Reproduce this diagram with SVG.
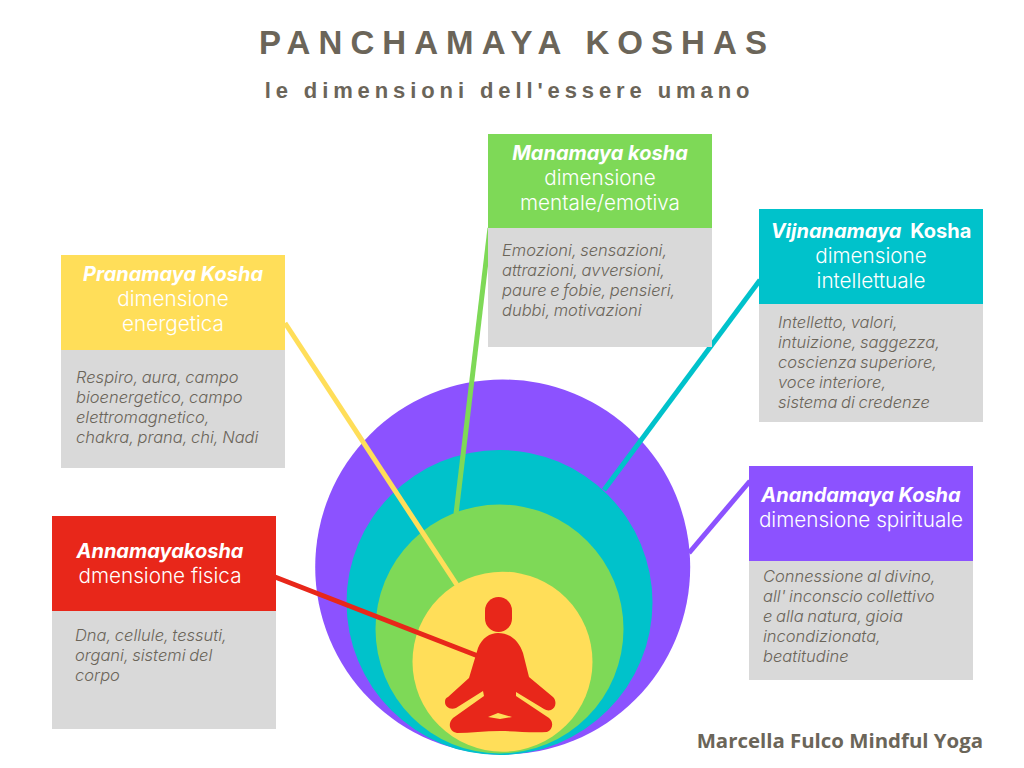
<svg xmlns="http://www.w3.org/2000/svg" width="1024" height="768" viewBox="0 0 1024 768">
<style>
text{font-family:"Inter","Roboto","Liberation Sans",sans-serif}
.t{fill:#6b6559;font-family:"Liberation Sans",sans-serif;font-weight:700;text-anchor:middle}
.h{fill:#fff;font-size:20.700px;font-weight:300;text-anchor:middle}
.n{font-size:20px;font-weight:700;font-style:italic}
.b{fill:#6b6559;font-size:16.500px;font-weight:300;font-style:italic;word-spacing:-1px}
.g{fill:#d9d9d9}
.c{fill:none;stroke-width:5}
</style>
<rect width="1024" height="768" fill="#fff"/>
<text class="t" x="517" y="54" font-size="33" letter-spacing="8.060">PANCHAMAYA KOSHAS</text>
<text class="t" x="509.500" y="98" font-size="22" letter-spacing="4.900">le dimensioni dell'essere umano</text>
<g id="circles">
<circle cx="502.700" cy="567" r="187.500" fill="#8c52ff"/>
<ellipse cx="499.500" cy="602.500" rx="153" ry="152.500" fill="#00c2cb"/>
<ellipse cx="499.500" cy="629" rx="124" ry="124.500" fill="#7ed957"/>
<circle cx="502.500" cy="661.700" r="90" fill="#ffde59"/>
</g>
<g id="connectors">
<path class="c" stroke="#8c52ff" d="M689 553L750 481"/>
<path class="c" stroke="#00c2cb" d="M604 490L760 280"/>
<path class="c" stroke="#7ed957" d="M456 514L490 228"/>
<path class="c" stroke="#ffde59" d="M457 585L285 323"/>
<path class="c" stroke="#e8271a" d="M478 656L275 577"/>
</g>
<g id="figure" fill="#e8271a">
<rect x="485" y="597" width="27" height="35" rx="13.500"/>
<path fill-rule="evenodd" d="M498 633C510 633 519 641 523 653L529 677L553 697C557 701 556 708 551 710C548 711 546 710 544 709L516 692L516 696L549 718C554 722 553 730 547 732C530 733 515 731 500 731C485 731 470 733 457 733C450 732 447 724 453 718L484 696L483 691L456 708C450 710 445 707 445 702C445 699 446 698 448 697L469 678L478 648C482 638 490 633 498 633ZM488 717L498 713L512 717L500 719Z"/>
</g>
<g id="annamaya">
<rect class="g" x="52" y="610" width="224" height="119"/>
<rect x="52" y="516" width="224" height="95" fill="#e8271a"/>
<text class="h" x="160" y="558"><tspan class="n">Annamayakosha</tspan><tspan x="160" dy="25">dmensione fisica</tspan></text>
<text class="b" x="75" y="641">Dna, cellule, tessuti,<tspan x="75" dy="20">organi, sistemi del</tspan><tspan x="75" dy="20">corpo</tspan></text>
</g>
<g id="pranamaya">
<rect class="g" x="61" y="349" width="224" height="119"/>
<rect x="61" y="255" width="224" height="95" fill="#ffde59"/>
<text class="h" x="173" y="281"><tspan class="n">Pranamaya Kosha</tspan><tspan x="173" dy="25">dimensione</tspan><tspan x="173" dy="25">energetica</tspan></text>
<text class="b" x="76" y="383">Respiro, aura, campo<tspan x="76" dy="20">bioenergetico, campo</tspan><tspan x="76" dy="20">elettromagnetico,</tspan><tspan x="76" dy="20">chakra, prana, chi, Nadi</tspan></text>
</g>
<g id="manamaya">
<rect class="g" x="488" y="228" width="224" height="119"/>
<rect x="488" y="134" width="224" height="94" fill="#7ed957"/>
<text class="h" x="600" y="160"><tspan class="n">Manamaya kosha</tspan><tspan x="600" dy="25">dimensione</tspan><tspan x="600" dy="25">mentale/emotiva</tspan></text>
<text class="b" x="502" y="256">Emozioni, sensazioni,<tspan x="502" dy="20">attrazioni, avversioni,</tspan><tspan x="502" dy="20">paure e fobie, pensieri,</tspan><tspan x="502" dy="20">dubbi, motivazioni</tspan></text>
</g>
<g id="vijnanamaya">
<rect class="g" x="759" y="303" width="224" height="119"/>
<rect x="759" y="209" width="224" height="95" fill="#00c2cb"/>
<text class="h" x="871" y="238"><tspan class="n">Vijnanamaya</tspan><tspan font-size="20" font-weight="700" dx="4"> Kosha</tspan><tspan x="871" dy="25">dimensione</tspan><tspan x="871" dy="25">intellettuale</tspan></text>
<text class="b" x="778" y="328">Intelletto, valori,<tspan x="778" dy="20">intuizione, saggezza,</tspan><tspan x="778" dy="20">coscienza superiore,</tspan><tspan x="778" dy="20">voce interiore,</tspan><tspan x="778" dy="20">sistema di credenze</tspan></text>
</g>
<g id="anandamaya">
<rect class="g" x="749" y="560" width="224" height="120"/>
<rect x="749" y="466" width="224" height="95" fill="#8c52ff"/>
<text class="h" x="861" y="502"><tspan class="n">Anandamaya Kosha</tspan><tspan x="861" dy="25">dimensione spirituale</tspan></text>
<text class="b" x="763" y="582">Connessione al divino,<tspan x="763" dy="20">all' inconscio collettivo</tspan><tspan x="763" dy="20">e alla natura, gioia</tspan><tspan x="763" dy="20">incondizionata,</tspan><tspan x="763" dy="20">beatitudine</tspan></text>
</g>
<text x="983" y="748" text-anchor="end" font-size="20.400" font-weight="700" fill="#6b6559" style="font-family:'Open Sans','Liberation Sans',sans-serif">Marcella Fulco Mindful Yoga</text>
</svg>
